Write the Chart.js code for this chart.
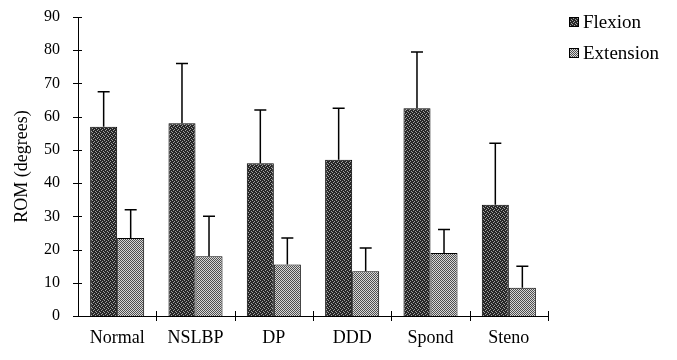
<!DOCTYPE html>
<html>
<head>
<meta charset="utf-8">
<script src="https://cdn.jsdelivr.net/npm/chart.js@4/dist/chart.umd.min.js"></script>
<style>
  html, body { margin: 0; padding: 0; background: #fff; }
  #wrap { width: 677px; height: 360px; }
</style>
</head>
<body>
<div id="wrap"><canvas id="rom"></canvas></div>
<script>
const groups = ["Normal", "NSLBP", "DP", "DDD", "Spond", "Steno"];
const flexion = [57, 58, 46, 47, 62.5, 33.5];
const flexionSD = [10.5, 18, 16, 15.5, 17, 18.5];
const extension = [23.5, 18, 15.5, 13.5, 19, 8.5];
const extensionSD = [8.5, 12, 8, 7, 7, 6.5];

var serif = "Liberation Serif";

// little canvas patterns to mimic the printed stipple
function makePattern(bg, fg, cells) {
  var c = document.createElement("canvas");
  c.width = 4;
  c.height = 4;
  var g = c.getContext("2d");
  g.fillStyle = bg;
  g.fillRect(0, 0, 4, 4);
  g.fillStyle = fg;
  cells.forEach(function (p) {
    g.fillRect(p[0], p[1], 1, 1);
  });
  return g.createPattern(c, "repeat");
}
var flexFill = makePattern("#262626", "#a0a0a0", [[0, 0], [2, 1], [1, 2], [3, 3]]);
var extFill = makePattern("#d8d8d8", "#4e4e4e", [[0, 0], [2, 0], [1, 1], [3, 1], [0, 2], [2, 2], [1, 3], [3, 3]]);

// upward-only error bars with caps
const errorBars = {
  id: "errorBars",
  afterDatasetsDraw(chart) {
    var ctx = chart.ctx;
    var y = chart.scales.y;
    var sds = [flexionSD, extensionSD];
    ctx.save();
    ctx.strokeStyle = "#000";
    ctx.lineWidth = 1.5;
    chart.data.datasets.forEach(function (ds, di) {
      chart.getDatasetMeta(di).data.forEach(function (bar, i) {
        var top = y.getPixelForValue(ds.data[i] + sds[di][i]);
        ctx.beginPath();
        ctx.moveTo(bar.x, bar.y);
        ctx.lineTo(bar.x, top);
        ctx.moveTo(bar.x - 6, top);
        ctx.lineTo(bar.x + 6, top);
        ctx.stroke();
      });
    });
    ctx.restore();
  },
};

// tick marks that cross the axis lines
const crossTicks = {
  id: "crossTicks",
  afterDraw(chart) {
    var ctx = chart.ctx;
    var a = chart.chartArea;
    var y = chart.scales.y;
    ctx.save();
    ctx.strokeStyle = "#000";
    ctx.lineWidth = 1;
    ctx.beginPath();
    y.ticks.forEach(function (t) {
      var py = Math.round(y.getPixelForValue(t.value)) + 0.5;
      ctx.moveTo(a.left - 5, py);
      ctx.lineTo(a.left + 4, py);
    });
    for (var i = 1; i <= groups.length; i++) {
      var px = Math.round(a.left + (i * (a.right - a.left)) / groups.length) + 0.5;
      ctx.moveTo(px, a.bottom - 5);
      ctx.lineTo(px, a.bottom + 5);
    }
    ctx.stroke();
    ctx.restore();
  },
};

// legend in the top right corner, outside the plot
const cornerLegend = {
  id: "cornerLegend",
  afterDraw(chart) {
    var ctx = chart.ctx;
    var rows = [22, 53];
    ctx.save();
    ctx.font = "19px " + serif;
    ctx.textBaseline = "middle";
    chart.data.datasets.forEach(function (ds, i) {
      var yy = rows[i];
      ctx.fillStyle = ds.backgroundColor;
      ctx.fillRect(569, yy - 5, 10, 10);
      ctx.strokeStyle = "#000";
      ctx.lineWidth = 1;
      ctx.strokeRect(569.5, yy - 4.5, 9, 9);
      ctx.fillStyle = "#000";
      ctx.fillText(ds.label, 583, yy + 1);
    });
    ctx.restore();
  },
};

new Chart(document.getElementById("rom"), {
  type: "bar",
  data: {
    labels: groups,
    datasets: [
      {
        label: "Flexion",
        data: flexion,
        backgroundColor: flexFill,
        borderColor: "#000",
        borderWidth: 1,
        categoryPercentage: 0.69,
        barPercentage: 1.0,
      },
      {
        label: "Extension",
        data: extension,
        backgroundColor: extFill,
        borderColor: "#000",
        borderWidth: 1,
        categoryPercentage: 0.69,
        barPercentage: 1.0,
      },
    ],
  },
  options: {
    responsive: true,
    maintainAspectRatio: false,
    animation: false,
    layout: { padding: { top: 0, right: 129, bottom: 0, left: 0 } },
    plugins: {
      tooltip: { enabled: false },
      legend: { display: false },
    },
    scales: {
      x: {
        grid: { display: false, drawOnChartArea: false, drawTicks: false },
        border: { display: true, color: "#000", width: 1 },
        ticks: { color: "#000", padding: 11, font: { family: serif, size: 18 } },
        afterFit(s) {
          s.height = 44;
          s.paddingLeft = 0;
          s.paddingRight = 0;
        },
      },
      y: {
        min: 0,
        max: 90,
        ticks: { stepSize: 10, color: "#000", padding: 18, font: { family: serif, size: 16 } },
        grid: { display: false, drawOnChartArea: false, drawTicks: false },
        border: { display: true, color: "#000", width: 1 },
        title: {
          display: true,
          text: "ROM (degrees)",
          color: "#000",
          padding: { top: 11, bottom: 0 },
          font: { family: serif, size: 18 },
        },
        afterFit(s) {
          s.width = 78;
          s.paddingTop = 17;
          s.paddingBottom = 0;
        },
      },
    },
  },
  plugins: [errorBars, crossTicks, cornerLegend],
});
</script>
</body>
</html>
